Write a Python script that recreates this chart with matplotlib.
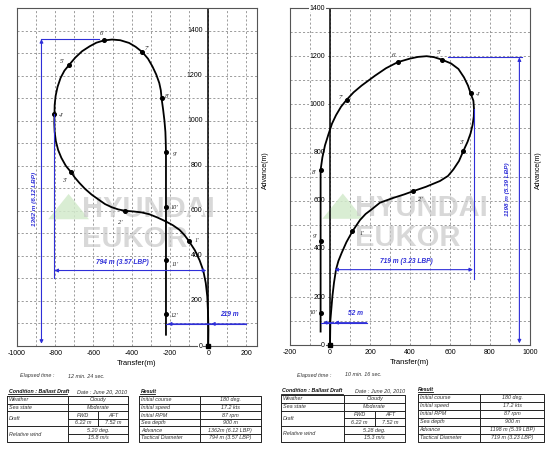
import numpy as np
import matplotlib.pyplot as plt
from matplotlib.patches import Polygon

plt.rcParams['font.family'] = ['Liberation Sans', 'DejaVu Sans']

# ---- left trial: turning circle to port ----
left_track_x = [0, 1, -1, -5, -13, -26, -45, -70, -102, -125, -151, -185, -220, -265, -309,
                -350, -390, -435, -470, -505, -540, -572, -610, -645, -675, -698, -716, -745,
                -768, -785, -797, -803, -805, -804, -803, -798, -788, -772, -752, -726, -695,
                -660, -620, -585, -546, -503, -460, -414, -380, -344, -315, -292, -272, -256,
                -248, -244, -236, -229, -224, -222, -221, -221, -221, -221, -221]
left_track_y = [0, 71, 145, 220, 280, 335, 380, 425, 467, 493, 516, 536, 552, 570, 585,
                593, 597, 600, 606, 616, 630, 649, 672, 698, 725, 748, 770, 800,
                835, 870, 910, 950, 990, 1030, 1070, 1110, 1150, 1190, 1222, 1249, 1280,
                1308, 1330, 1346, 1356, 1360, 1357, 1345, 1328, 1304, 1275, 1241, 1205, 1167,
                1135, 1099, 1050, 1000, 950, 900, 859, 619, 381, 141, 50]
left_names = ["1'", "2'", "3'", "4'", "5'", "6'", "7'", "8'", "9'", "10'", "11'", "12'"]
left_mark_x = [-102, -435, -716, -804, -726, -546, -344, -244, -221, -221, -221, -221]
left_mark_y = [467, 600, 770, 1030, 1249, 1356, 1304, 1099, 859, 619, 381, 141]
left_xticks = [-1000, -800, -600, -400, -200, 0, 200]
left_yticks = [0, 200, 400, 600, 800, 1000, 1200, 1400]
left_advance = 1362
left_advance_text = '1362 m (6.12 LBP)'
left_tactical = (-804, -10)
left_tactical_text = '794 m (3.57 LBP)'
left_transfer = (-221, 0, 200)
left_transfer_text = '219 m'
left_elapsed = '12 min. 24 sec.'
left_wind = ['5.20 deg.', '15.8 m/s']
left_result = ['180 deg.', '17.2 kts', '87 rpm', '900 m', '1362m (6.12 LBP)', '794 m (3.57 LBP)']

# ---- right trial: turning circle to starboard ----
right_track_x = [0, 2, 12, 20, 30, 42, 58, 82, 112, 150, 178, 208, 250, 317, 370, 417, 480,
                 550, 590, 617, 645, 667, 688, 703, 713, 719, 720, 717, 703, 690, 670, 642,
                 605, 558, 520, 483, 440, 400, 338, 280, 225, 158, 118, 83, 55, 30, 10, -8,
                 -25, -38, -47, -47, -47, -47]
right_track_y = [0, 105, 203, 260, 314, 350, 383, 428, 473, 520, 545, 564, 592, 612, 626, 640,
                 658, 682, 703, 730, 765, 807, 845, 880, 915, 950, 980, 1015, 1046, 1078,
                 1112, 1147, 1170, 1186, 1196, 1200, 1197, 1190, 1175, 1150, 1119, 1078, 1050,
                 1019, 990, 955, 920, 875, 830, 780, 728, 432, 136, 57]
right_names = ["1'", "2'", "3'", "4'", "5'", "6'", "7'", "8'", "9'", "10'"]
right_mark_x = [112, 417, 667, 703, 558, 338, 83, -47, -47, -47]
right_mark_y = [473, 640, 807, 1046, 1186, 1175, 1019, 728, 432, 136]
right_xticks = [-200, 0, 200, 400, 600, 800, 1000]
right_yticks = [0, 200, 400, 600, 800, 1000, 1200, 1400]
right_advance = 1198
right_advance_text = '1198 m (5.39 LBP)'
right_tactical = (22, 715)
right_tactical_text = '719 m (3.23 LBP)'
right_transfer = (-47, 0, 183)
right_transfer_text = '52 m'
right_elapsed = '10 min. 16 sec.'
right_wind = ['5.28 deg.', '15.3 m/s']
right_result = ['180 deg.', '17.2 kts', '87 rpm', '900 m', '1198 m (5.39 LBP)', '719 m (3.23 LBP)']

cond_labels = ['Weather', 'Sea state', 'Draft', 'Relative wind']
draft_values = ['FWD', 'AFT', '6.22 m', '7.52 m']
result_labels = ['Initial course', 'Initial speed', 'Initial RPM', 'Sea depth', 'Advance',
                 'Tactical Diameter']

BLUE = '#2f2fd8'
W, H = 550, 449

# label offsets in pixels (dx right, dy up)
left_offsets = [(8, 0), (-5, -12), (-7, -8), (7, -2), (-7, 3), (-2, 7), (4, 4), (6, 2),
                (9, -2), (9, -1), (9, -4), (9, -1)]
right_offsets = [(10, -2), (7, -8), (-2, 8), (8, -1), (-2, 7), (-4, 7), (-6, 2), (-6, -3),
                 (-6, 5), (-7, 0)]


def dim_arrow(ax, p0, p1):
    ax.annotate('', xy=p1, xytext=p0,
                arrowprops=dict(arrowstyle='<|-|>', color=BLUE, lw=0.8,
                                mutation_scale=5, shrinkA=0, shrinkB=0), zorder=6)


def left_arrow(ax, x_from, x_to, y):
    ax.annotate('', xy=(x_to, y), xytext=(x_from, y),
                arrowprops=dict(arrowstyle='-|>', color=BLUE, lw=0.8,
                                mutation_scale=5, shrinkA=0, shrinkB=0), zorder=6)


def draw_panel(ax, xlim, ylim, xticks, yticks, tx, ty, mx, my, names, offsets, ylab_x):
    ax.set_xlim(xlim)
    ax.set_ylim(ylim)
    ax.set_xticks(xticks)
    ax.set_xticklabels([str(v) for v in xticks], fontsize=5)
    ax.set_xticks(np.arange(xlim[0], xlim[1] + 1, 100), minor=True)
    ax.set_yticks(np.arange(ylim[0], ylim[1] + 1, 100))
    ax.set_yticklabels([])
    ax.tick_params(which='both', length=0, pad=3)
    ax.grid(which='both', color='#8c8c8c', linestyle=(0, (2.5, 2.5)), linewidth=0.6)
    ax.set_axisbelow(True)
    for s in ax.spines.values():
        s.set_color('#555555')
        s.set_linewidth(0.8)
    ax.axvline(0, color='black', lw=1.1, zorder=2)
    for v in yticks:
        ax.text(ylab_x, v, str(v), ha='right', va='center', fontsize=5, zorder=3,
                bbox=dict(fc='white', ec='none', pad=0.4))
    ax.plot(tx, ty, color='black', lw=1.3, zorder=4)
    ax.plot(mx, my, 'o', ms=2.6, color='black', zorder=5)
    ax.plot([0], [0], 's', ms=3.2, color='black', zorder=5, clip_on=False)
    for n, x, y, (dx, dy) in zip(names, mx, my, offsets):
        ax.annotate(n, (x, y), xytext=(dx * 0.72, dy * 0.72), textcoords='offset points',
                    ha='center', va='center', fontsize=4.5, style='italic',
                    family='Liberation Serif', color='#222222', zorder=6)
    ax.set_xlabel('Transfer(m)', fontsize=5.5, labelpad=2)
    ax.text(1.035, 0.52, 'Advance(m)', transform=ax.transAxes, rotation=90,
            ha='center', va='center', fontsize=5)


def watermark(ax, tri_x):
    ax.add_patch(Polygon([(tri_x, 0.45), (tri_x - 0.085, 0.375), (tri_x + 0.085, 0.375)],
                         closed=True, transform=ax.transAxes, fc='#d3eacc', ec='none',
                         alpha=0.85, zorder=1))
    for word, y in (('HYUNDAI', 0.382), ('EUKOR', 0.293)):
        ax.text(0.272, y, word, transform=ax.transAxes, fontsize=21, weight='bold',
                color='#c9c9c9', alpha=0.72, zorder=1.5)


fig = plt.figure(figsize=(5.5, 4.49), dpi=100)

# overlay in pixel coordinates for the text blocks below the charts
ov = fig.add_axes([0, 0, 1, 1])
ov.set_xlim(0, W)
ov.set_ylim(H, 0)
ov.axis('off')

axL = fig.add_axes([17 / W, (H - 346) / H, 240 / W, 338 / H])
axR = fig.add_axes([290 / W, (H - 345.3) / H, 240 / W, 337.3 / H])

draw_panel(axL, (-1000, 255), (0, 1500), left_xticks, left_yticks, left_track_x, left_track_y,
           left_mark_x, left_mark_y, left_names, left_offsets, -30)
draw_panel(axR, (-200, 1000), (0, 1400), right_xticks, right_yticks, right_track_x,
           right_track_y, right_mark_x, right_mark_y, right_names, right_offsets, -25)
watermark(axL, 0.215)
watermark(axR, 0.22)

# ---- dimension lines, left ----
axL.plot([-875, -570], [left_advance, left_advance], color=BLUE, lw=0.8, zorder=6)
dim_arrow(axL, (-872, 10), (-872, left_advance))
axL.text(-910, 653, left_advance_text, rotation=90, ha='center', va='center', fontsize=4.6,
         color=BLUE, weight='bold', style='italic', zorder=6)
axL.plot([left_tactical[0], left_tactical[0]], [300, 1030], color=BLUE, lw=0.8, zorder=6)
dim_arrow(axL, (left_tactical[0], 335), (left_tactical[1], 335))
axL.text(-449, 372, left_tactical_text, ha='center', va='center', fontsize=4.8, color=BLUE,
         weight='bold', style='italic', zorder=6)
axL.plot([left_transfer[0], left_transfer[2]], [98, 98], color=BLUE, lw=0.8, zorder=6)
left_arrow(axL, left_transfer[1] + 20, left_transfer[0] + 10, 98)
left_arrow(axL, left_transfer[2], left_transfer[1] + 15, 98)
axL.text(112, 138, left_transfer_text, ha='center', va='center', fontsize=4.8, color=BLUE,
         weight='bold', style='italic', zorder=6)

# ---- dimension lines, right ----
axR.plot([592, 958], [1195, 1195], color=BLUE, lw=0.8, zorder=6)
dim_arrow(axR, (947, 8), (947, 1195))
axR.text(890, 647, right_advance_text, rotation=90, ha='center', va='center', fontsize=4.6,
         color=BLUE, weight='bold', style='italic', zorder=6)
axR.plot([720, 720], [275, 980], color=BLUE, lw=0.8, zorder=6)
dim_arrow(axR, (right_tactical[0], 314), (right_tactical[1], 314))
axR.text(383, 348, right_tactical_text, ha='center', va='center', fontsize=4.8, color=BLUE,
         weight='bold', style='italic', zorder=6)
axR.plot([right_transfer[0], right_transfer[2]], [94, 94], color=BLUE, lw=0.8, zorder=6)
left_arrow(axR, right_transfer[1] + 20, right_transfer[0] + 12, 94)
left_arrow(axR, right_transfer[2], right_transfer[1] + 22, 94)
axR.text(128, 130, right_transfer_text, ha='center', va='center', fontsize=4.8, color=BLUE,
         weight='bold', style='italic', zorder=6)


# ---- tables ----
TXT = dict(fontsize=3.9, style='italic', color='#333333', va='center')


def cond_table(x0, x1, xs, xd, top, rh, wind):
    ys = [top + i * rh for i in range(7)]
    lw = 0.7
    ov.plot([x0, x1, x1, x0, x0], [ys[0], ys[0], ys[6], ys[6], ys[0]], color='#222222', lw=lw)
    ov.plot([xs, xs], [ys[0], ys[6]], color='#222222', lw=lw)
    ov.plot([xd, xd], [ys[2], ys[4]], color='#222222', lw=lw)
    for i in (1, 2, 4):
        ov.plot([x0, x1], [ys[i], ys[i]], color='#222222', lw=lw)
    for i in (3, 5):
        ov.plot([xs, x1], [ys[i], ys[i]], color='#222222', lw=lw)
    mid = lambda a, b: (a + b) / 2
    ov.text(x0 + 2, mid(ys[0], ys[1]), cond_labels[0], **TXT)
    ov.text(x0 + 2, mid(ys[1], ys[2]), cond_labels[1], **TXT)
    ov.text(x0 + 2, ys[3], cond_labels[2], **TXT)
    ov.text(x0 + 2, ys[5], cond_labels[3], **TXT)
    ov.text(mid(xs, x1), mid(ys[0], ys[1]), 'Cloudy', ha='center', **TXT)
    ov.text(mid(xs, x1), mid(ys[1], ys[2]), 'Moderate', ha='center', **TXT)
    ov.text(mid(xs, xd), mid(ys[2], ys[3]), draft_values[0], ha='center', **TXT)
    ov.text(mid(xd, x1), mid(ys[2], ys[3]), draft_values[1], ha='center', **TXT)
    ov.text(mid(xs, xd), mid(ys[3], ys[4]), draft_values[2], ha='center', **TXT)
    ov.text(mid(xd, x1), mid(ys[3], ys[4]), draft_values[3], ha='center', **TXT)
    ov.text(mid(xs, x1), mid(ys[4], ys[5]), wind[0], ha='center', **TXT)
    ov.text(mid(xs, x1), mid(ys[5], ys[6]), wind[1], ha='center', **TXT)


def result_table(x0, x1, xs, top, rh, values):
    ys = [top + i * rh for i in range(7)]
    lw = 0.7
    ov.plot([x0, x1, x1, x0, x0], [ys[0], ys[0], ys[6], ys[6], ys[0]], color='#222222', lw=lw)
    ov.plot([xs, xs], [ys[0], ys[6]], color='#222222', lw=lw)
    for i in range(1, 6):
        ov.plot([x0, x1], [ys[i], ys[i]], color='#222222', lw=lw)
    for i in range(6):
        yc = (ys[i] + ys[i + 1]) / 2
        ov.text(x0 + 2, yc, result_labels[i], **TXT)
        ov.text((xs + x1) / 2, yc, values[i], ha='center', **TXT)


HEAD = dict(fontsize=3.8, style='italic', weight='bold', color='#111111', va='center')
SUB = dict(fontsize=3.9, style='italic', color='#333333', va='center')

# left block
ov.text(20, 376, 'Elapsed time :', **SUB)
ov.text(68, 376, left_elapsed, **SUB)
ov.text(9, 391.5, 'Condition : Ballast Draft', **HEAD)
ov.plot([8, 67], [394.3, 394.3], color='#111111', lw=0.6)
ov.text(77, 391.5, 'Date : June 20, 2010', **SUB)
ov.text(141, 391.5, 'Result', **HEAD)
ov.plot([140, 155], [394.3, 394.3], color='#111111', lw=0.6)
cond_table(7, 128, 68.3, 98.3, 396, 7.62, left_wind)
result_table(139.3, 260.7, 200, 396, 7.62, left_result)

# right block
ov.text(296.7, 375, 'Elapsed time :', **SUB)
ov.text(345, 375, right_elapsed, **SUB)
ov.text(282.3, 391, 'Condition : Ballast Draft', **HEAD)
ov.plot([281, 343], [393.8, 393.8], color='#111111', lw=0.6)
ov.text(355, 391, 'Date : June 20, 2010', **SUB)
ov.text(418.3, 389.5, 'Result', **HEAD)
ov.plot([417.5, 433], [392.3, 392.3], color='#111111', lw=0.6)
cond_table(281, 405, 344.3, 375, 395, 7.78, right_wind)
result_table(417.7, 544.3, 480, 394, 7.95, right_result)

fig.savefig('out.png', dpi=100)
